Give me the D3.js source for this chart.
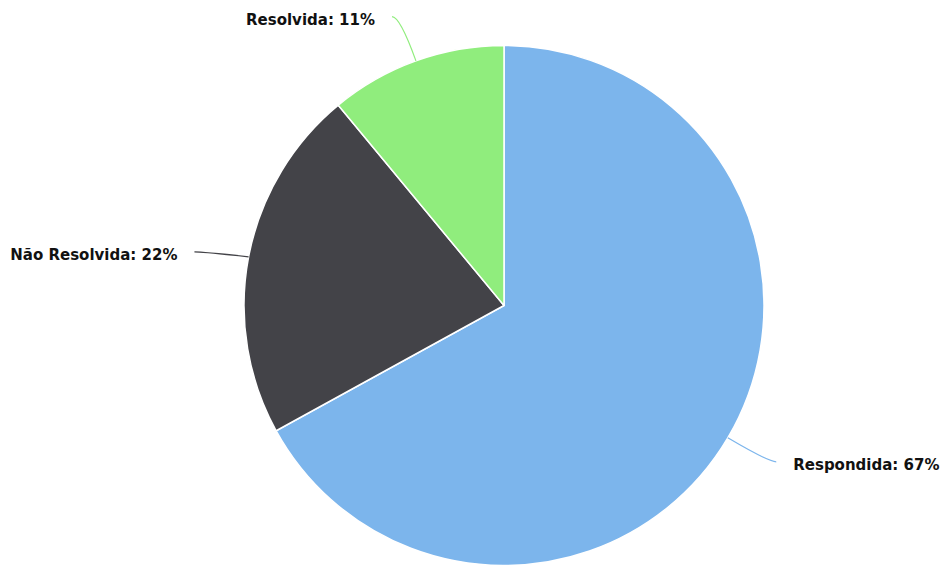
<!DOCTYPE html>
<html lang="pt">
<head>
  <meta charset="UTF-8">
  <title>Pie</title>
  <script src="https://d3js.org/d3.v7.min.js"></script>
  <style>
    body { margin: 0; background: #fff; }
    .lbl { font-family: "DejaVu Sans", Verdana, sans-serif; font-size: 15px; font-weight: bold; fill: #111; }
  </style>
</head>
<body>
  <div id="chart"></div>
  <script>
    // data
    const categories = ['Respondida', 'Não Resolvida', 'Resolvida'];
    const values = [67, 22, 11];
    const colors = ['#7cb5ec', '#434348', '#90ed7d'];

    const width = 943, height = 565;
    const cx = 504, cy = 305.5, radius = 260;
    const connRadius = 307;

    const svg = d3.select('#chart').append('svg')
      .attr('width', width)
      .attr('height', height);

    const g = svg.append('g').attr('transform', `translate(${cx},${cy})`);

    const pie = d3.pie().sort(null).value(d => d.value);
    const arcs = pie(categories.map((c, i) => ({ name: c, value: values[i], color: colors[i] })));

    const arc = d3.arc().innerRadius(0).outerRadius(radius);

    g.selectAll('path.slice')
      .data(arcs)
      .enter().append('path')
      .attr('class', 'slice')
      .attr('d', arc)
      .attr('fill', d => d.data.color)
      .attr('stroke', '#fff')
      .attr('stroke-width', 1.5)
      .attr('stroke-linejoin', 'round');

    // connectors + labels
    const polar = (a, r) => [r * Math.sin(a), -r * Math.cos(a)];

    arcs.forEach(d => {
      const mid = (d.startAngle + d.endAngle) / 2;
      const edge = polar(mid, radius);
      const bend = polar(mid, connRadius);
      // side labels sit a little lower than the radial point
      if (Math.abs(Math.sin(mid)) > 0.9) bend[1] += 4;
      const side = bend[0] >= 0 ? 1 : -1;
      const start = [bend[0] + side * 8, bend[1]];

      g.append('path')
        .attr('d', `M${start[0]},${start[1]} Q${bend[0]},${bend[1]} ${edge[0]},${edge[1]}`)
        .attr('fill', 'none')
        .attr('stroke', d.data.color)
        .attr('stroke-width', 1.2);

      g.append('text')
        .attr('class', 'lbl')
        .attr('x', bend[0] + side * 25)
        .attr('y', bend[1] + 3)
        .attr('dy', '0.35em')
        .attr('text-anchor', side > 0 ? 'start' : 'end')
        .text(`${d.data.name}: ${d.data.value}%`);
    });
  </script>
</body>
</html>
